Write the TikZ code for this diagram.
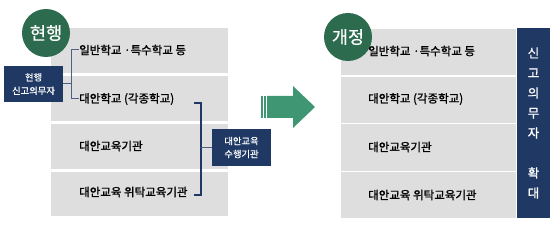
\documentclass[tikz,border=0pt]{standalone}
\usepackage{fontspec}
\setmainfont{Noto Sans CJK KR}
\newfontfamily\boldish{Noto Sans CJK KR}[FakeBold=1.2]
\newfontfamily\semib{Noto Sans CJK KR}[FakeBold=0.6]
\definecolor{graybg}{HTML}{DEDEDE}
\definecolor{navy}{HTML}{1F3864}
\definecolor{dgreen}{HTML}{2D6B4F}
\definecolor{agreen}{HTML}{3F9672}
\definecolor{brk}{HTML}{4F5F85}
\begin{document}
\begin{tikzpicture}[x=1pt,y=-1pt,
  rowbox/.style={fill=graybg,draw=none},
  rowtext/.style={anchor=west,inner sep=0pt,font=\boldish\fontsize{11.5}{12}\selectfont,text=black},
  navybox/.style={fill=navy,draw=none,text=white,align=center,inner sep=0pt,font=\semib\fontsize{9.3}{13.5}\selectfont},
  circ/.style={circle,fill=dgreen,draw=none,text=white,inner sep=0pt,minimum size=48pt,font=\semib\fontsize{17.5}{18}\selectfont},
  brline/.style={draw=brk,line width=1pt},
  brline2/.style={draw=navy,line width=1.2pt}]
\useasboundingbox (0,0) rectangle (560,232);
% left panel
\fill[rowbox] (51,28) rectangle (228,73);
\fill[rowbox] (51,76) rectangle (228,121);
\fill[rowbox] (51,124) rectangle (228,169);
\fill[rowbox] (51,172) rectangle (228,216);
\node[circ] (c1) at (46,33) {현행};
\node[navybox,minimum width=59pt,minimum height=36pt] (nb1) at (33.5,84) {현행\\신고의무자};
\node[rowtext] (l1) at (79,50) {일반학교 ·특수학교 등};
\node[rowtext] (l2) at (79,99) {대안학교 (각종학교)};
\node[rowtext] (l3) at (79,146) {대안교육기관};
\node[rowtext] (l4) at (79,192) {대안교육 위탁교육기관};
\coordinate (bx) at (71,0);
\draw[brline] (l1.west) -- (l1.west -| bx) -- (l2.west -| bx) -- (l2.west);
\draw[brline] (nb1.east) -- (nb1.east -| bx);
% right bracket
\node[navybox,minimum width=59pt,minimum height=37pt,font=\semib\fontsize{9.3}{13}\selectfont] (nb2) at (241.5,147.5) {대안교육\\수행기관};
\coordinate (r1) at (194,103);
\coordinate (r2) at (194,195);
\coordinate (rx) at (201,0);
\draw[brline2] (r1) -- (r1 -| rx) -- (r2 -| rx) -- (r2);
\draw[brline] (nb2.west -| rx) -- (nb2.west);
% arrow
\fill[agreen] (261,96) rectangle (262.5,118);
\fill[agreen] (263.5,96) rectangle (266,118);
\fill[agreen] (267,96) -- (293,96) -- (293,86) -- (315,107) -- (293,128) -- (293,118) -- (267,118) -- cycle;
% right panel
\fill[rowbox] (341,29) rectangle (516,218);
\draw[white,line width=1.5pt] (341,76) -- (516,76);
\draw[white,line width=1.5pt] (341,123.5) -- (516,123.5);
\draw[white,line width=1.5pt] (341,171.5) -- (516,171.5);
\node[circ] (c2) at (348,37) {개정};
\node[rowtext] (r1t) at (368,51) {일반학교 ·특수학교 등};
\node[rowtext] (r2t) at (368,99) {대안학교 (각종학교)};
\node[rowtext] (r3t) at (368,147) {대안교육기관};
\node[rowtext] (r4t) at (368,195) {대안교육 위탁교육기관};
\fill[navy] (517,28) rectangle (550,218);
\node[text=white,align=center,inner sep=0pt,font=\boldish\fontsize{12.5}{20}\selectfont] (vt) at (533.5,123) {신\\고\\의\\무\\자\\[20pt]확\\대};
\end{tikzpicture}
\end{document}
